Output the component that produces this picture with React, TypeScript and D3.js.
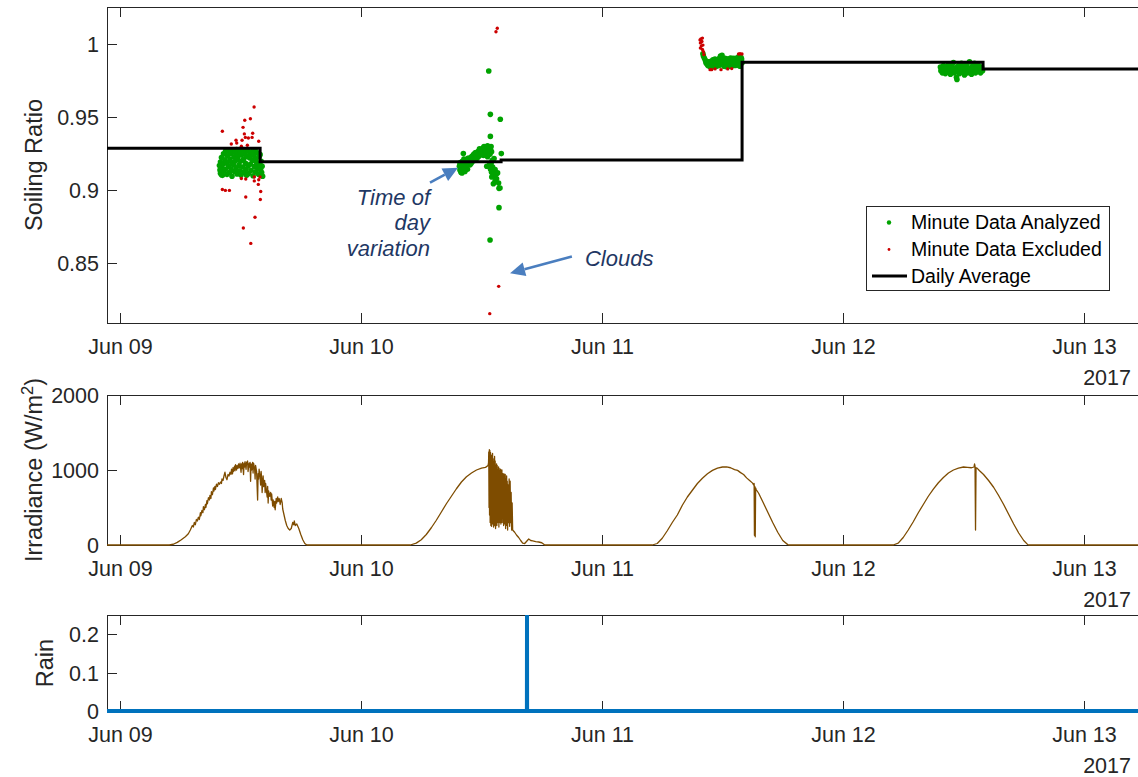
import React from "react";
import * as d3 from "d3";

// ---------- data ----------
// Soiling ratio per minute, as [hour of day, ratio]
const analyzedJun09: [number, number][] = [
  [9.9,0.9165],[9.95,0.9135],[10.0,0.919],[10.0,0.9112],[10.1,0.922],[10.15,0.915],[10.2,0.9098],[10.3,0.9245],[10.3,0.9178],[10.35,0.9128],
  [10.45,0.9205],[10.5,0.9262],[10.5,0.914],[10.6,0.9185],[10.65,0.9105],[10.7,0.9232],[10.8,0.916],[10.85,0.927],[10.9,0.9118],[10.95,0.921],
  [11.0,0.9248],[11.05,0.9143],[11.1,0.9188],[11.15,0.9092],[11.2,0.9265],[11.3,0.9172],[11.35,0.9225],[11.4,0.9125],[11.45,0.9255],[11.5,0.9198],
  [11.55,0.915],[11.6,0.9275],[11.65,0.9108],[11.7,0.9215],[11.8,0.924],[11.85,0.9168],[11.9,0.913],[11.95,0.9262],[12.0,0.9195],[12.05,0.91],
  [12.1,0.9238],[12.2,0.9155],[12.25,0.9272],[12.3,0.9208],[12.35,0.912],[12.45,0.925],[12.5,0.918],[12.55,0.914],[12.6,0.9228],[12.7,0.9268],
  [12.75,0.9162],[12.8,0.911],[12.9,0.9218],[12.95,0.9245],[13.0,0.9175],[13.05,0.9132],[13.1,0.926],[13.2,0.92],[13.25,0.9095],[13.3,0.9235],
  [13.4,0.9158],[13.45,0.927],[13.5,0.9122],[13.55,0.9212],[13.6,0.9185],[13.7,0.9252],[13.75,0.9145],[13.8,0.9105],[13.85,0.9228],[13.9,0.917],
  [13.95,0.924],[14.0,0.9135],[14.05,0.9195],[14.1,0.9118],[14.15,0.916],[10.1,0.9102],[14.2,0.9092],[12.6,0.9098]
];
const excludedJun09: [number, number][] = [
  [13.35,0.9566],[12.98,0.9486],[12.42,0.9475],[12.25,0.9427],[10.19,0.94],[12.38,0.9382],[13.21,0.9386],[12.48,0.9358],[12.78,0.9354],
  [12.15,0.9338],[13.15,0.9358],[13.81,0.9332],[11.55,0.9338],[11.62,0.932],[11.08,0.9313],[12.08,0.9297],[12.68,0.9304],
  [12.08,0.9077],[12.52,0.9073],[13.37,0.9087],[13.94,0.9087],[13.81,0.9068],[13.37,0.906],[13.77,0.9036],[10.19,0.9001],[10.49,0.8995],
  [10.89,0.8995],[14.01,0.8988],[12.52,0.895],[13.97,0.8933],[13.44,0.8811],[12.28,0.8738],[13.02,0.8632]
];
const analyzedJun10: [number, number][] = [
  [9.8,0.916],[9.85,0.9135],[9.9,0.9185],[9.95,0.912],[10.0,0.917],[10.05,0.9145],[10.1,0.9195],[10.15,0.913],[10.2,0.916],[10.25,0.921],
  [10.3,0.915],[10.35,0.9125],[10.4,0.918],[10.5,0.9165],[10.55,0.92],[10.6,0.914],[10.7,0.9185],[10.75,0.9215],[10.85,0.917],[10.9,0.92],
  [11.0,0.9225],[11.05,0.919],[11.15,0.921],[11.2,0.924],[11.3,0.92],[11.4,0.923],[11.45,0.9255],[11.55,0.9215],[11.6,0.9245],[11.7,0.9265],
  [11.75,0.923],[11.85,0.9255],[11.9,0.9275],[12.0,0.924],[12.05,0.9265],[12.15,0.9285],[12.2,0.925],[12.3,0.9272],[12.4,0.929],[12.45,0.9255],
  [12.55,0.928],[12.6,0.93],[12.7,0.9262],[12.75,0.9285],[12.85,0.9245],[12.9,0.9275],[12.52,0.916],[12.8,0.917],[12.9,0.914],[13.0,0.912],
  [13.1,0.9155],[13.2,0.9095],[13.3,0.913],[13.35,0.9137],[13.02,0.9087],[13.35,0.9057],[13.18,0.9041],[13.45,0.9105],[13.5,0.9075],
  [13.6,0.9115],[13.7,0.9045],[13.84,0.9012],
  [9.85,0.9175],[9.95,0.915],[10.05,0.9115],[10.1,0.9165],[10.2,0.919],[10.25,0.914],[10.4,0.915],[10.45,0.9205],[10.6,0.917],[10.65,0.9215],
  [10.8,0.919],[10.95,0.918],[11.1,0.923],[11.25,0.9215],[11.35,0.925],[11.5,0.9235],[11.65,0.9225],[11.8,0.928],[11.95,0.926],[12.1,0.925],
  [12.25,0.9295],[12.35,0.9265],[12.5,0.927],[12.65,0.929],[12.8,0.9265],[12.95,0.9295],[12.7,0.924],[12.6,0.9225],[13.0,0.926],[13.05,0.92],
  [12.95,0.918],[11.0,0.9205],[11.4,0.9215],[11.9,0.9245],[12.2,0.9235],
  [12.72,0.9813],[12.88,0.9516],[13.87,0.9482],[12.88,0.9365],[10.19,0.9247],[13.97,0.9247],[13.25,0.9214],[13.74,0.9009],
  [13.74,0.8877],[12.85,0.8655]
];
const excludedJun10: [number, number][] = [
  [13.57,1.0105],[13.44,1.0082],[13.71,0.8338],[12.82,0.8151]
];
const analyzedJun11: [number, number][] = [
  [10.05,0.993],[10.1,0.9915],[10.2,0.99],[10.3,0.9885],[10.35,0.987],[10.45,0.986],[10.55,0.985],[10.6,0.9875],[10.7,0.9845],[10.8,0.9862],
  [10.9,0.985],[11.0,0.9872],[11.1,0.9855],[11.2,0.988],[11.3,0.9858],[11.4,0.987],[11.5,0.9848],[11.6,0.9885],[11.7,0.99],[11.8,0.9915],
  [11.9,0.9895],[12.0,0.987],[12.1,0.9855],[12.2,0.988],[12.3,0.9862],[12.4,0.9895],[12.5,0.9875],[12.6,0.985],[12.7,0.988],[12.8,0.9902],
  [12.9,0.9868],[13.0,0.989],[13.1,0.9858],[13.2,0.9885],[13.3,0.99],[13.4,0.987],[13.5,0.9895],[13.6,0.991],[13.7,0.988],[13.8,0.9862],
  [13.9,0.9895],[13.75,0.9845],[11.0,0.9845],[12.3,0.9843],
  [10.4,0.988],[10.5,0.9868],[10.65,0.9858],[10.75,0.9872],[10.85,0.988],[10.95,0.9842],[11.05,0.989],[11.15,0.9842],[11.25,0.9895],
  [11.35,0.9845],[11.45,0.989],[11.55,0.987],[11.65,0.985],[11.75,0.987],[11.85,0.9885],[11.95,0.992],[12.05,0.989],[12.15,0.9845],
  [12.25,0.99],[12.35,0.9848],[12.45,0.9865],[12.55,0.9895],[12.65,0.9868],[12.75,0.9845],[12.85,0.988],[12.95,0.985],[13.05,0.99],
  [13.15,0.9875],[13.25,0.985],[13.35,0.988],[13.45,0.9855],[13.55,0.9875],[13.65,0.985],[13.85,0.9905],[13.95,0.987]
];
const excludedJun11: [number, number][] = [
  [9.76,1.0025],[9.8,1.0005],[9.85,1.0032],[9.9,0.9985],[9.95,1.0015],[10.0,0.996],[10.05,0.999],[10.1,0.9945],[10.15,0.9925],[9.8,0.997],
  [10.0,1.0038],[10.76,0.9822],[10.92,0.9822],[11.26,0.9827],[11.85,0.9822],[12.52,0.9827],[12.92,0.9829],[13.6,0.9929],[13.75,0.9931],[13.94,0.9929]
];
const analyzedJun12: [number, number][] = [
  [9.7,0.984],[9.75,0.9815],[9.85,0.983],[9.9,0.98],[10.0,0.985],[10.1,0.982],[10.2,0.9795],[10.3,0.984],[10.4,0.981],[10.5,0.986],
  [10.6,0.9825],[10.7,0.979],[10.8,0.9845],[10.9,0.9815],[11.0,0.987],[11.1,0.98],[11.2,0.9835],[11.3,0.977],[11.35,0.9755],[11.4,0.982],
  [11.5,0.985],[11.6,0.9795],[11.7,0.983],[11.8,0.9865],[11.9,0.981],[12.0,0.984],[12.1,0.9785],[12.2,0.9825],[12.3,0.986],[12.4,0.98],
  [12.5,0.9835],[12.6,0.9875],[12.7,0.9815],[12.8,0.979],[12.9,0.9845],[13.0,0.982],[13.1,0.9865],[13.2,0.98],[13.3,0.9835],[13.4,0.981],
  [13.5,0.985],[13.6,0.9825],[13.7,0.98],[13.8,0.984],[13.9,0.9815]
];

// Daily average soiling ratio, updated once a day after the analysis window
const dailyAverageDays = [8, 9, 10, 11, 12];
const dailyAverageValues = [0.9283, 0.9192, 0.9204, 0.9872, 0.9827];
const dailyUpdateHour = 13.95;

// Plane-of-array irradiance, [hour of day, W/m^2]
const irradianceJun09: [number, number][] = [
  [4.9,0],[5.3,10],[5.7,35],[6.1,70],[6.5,110],[6.8,150],[7.0,200],[7.1,230],[7.2,260],[7.3,240],[7.4,300],[7.5,270],[7.6,340],[7.7,320],
  [7.8,370],[7.9,340],[8.0,430],[8.05,390],[8.15,460],[8.25,430],[8.3,510],[8.4,470],[8.5,540],[8.55,500],[8.65,590],[8.7,550],[8.8,630],
  [8.9,600],[8.95,660],[9.05,620],[9.1,710],[9.2,670],[9.3,760],[9.35,720],[9.45,780],[9.5,740],[9.6,810],[9.7,780],[9.8,830],[9.9,810],
  [10.0,840],[10.1,820],[10.15,880],[10.25,860],[10.35,920],[10.45,970],[10.5,930],[10.55,900],[10.65,870],[10.75,940],[10.85,920],
  [10.95,970],[11.05,940],[11.1,1010],[11.2,950],[11.25,1030],[11.3,980],[11.4,1050],[11.45,990],[11.5,1070],[11.6,1000],[11.65,1060],
  [11.75,1020],[11.8,1080],[11.9,1030],[11.95,1090],[12.05,970],[12.1,1080],[12.15,1020],[12.2,1100],[12.3,940],[12.35,1090],[12.4,1040],
  [12.45,1110],[12.55,1010],[12.6,1100],[12.7,1120],[12.75,980],[12.85,1090],[12.9,1040],[12.95,1100],[13.0,850],[13.05,1080],[13.1,1000],
  [13.2,1100],[13.25,960],[13.3,1090],[13.4,1020],[13.45,880],[13.5,1060],[13.6,980],[13.65,780],[13.7,600],[13.75,950],[13.8,880],
  [13.85,1010],[13.95,900],[14.0,800],[14.05,980],[14.1,900],[14.15,700],[14.25,920],[14.3,780],[14.4,860],[14.45,700],[14.5,820],
  [14.55,760],[14.65,640],[14.7,780],[14.75,560],[14.8,720],[14.9,650],[15.0,700],[15.05,600],[15.1,680],[15.2,520],[15.25,600],
  [15.35,500],[15.4,580],[15.45,470],[15.55,620],[15.6,560],[15.7,640],[15.75,580],[15.85,620],[15.95,540],[16.05,620],[16.15,560],
  [16.2,480],[16.3,420],[16.45,330],[16.6,260],[16.75,220],[16.9,200],[17.05,220],[17.2,300],[17.3,270],[17.35,320],[17.45,260],
  [17.6,280],[17.8,220],[18.0,140],[18.2,70],[18.4,20],[18.6,0]
];
const irradianceJun10: [number, number][] = [
  [4.9,0],[5.5,25],[6.0,70],[6.5,140],[7.0,230],[7.5,330],[8.0,440],[8.5,550],[9.0,650],[9.5,750],[10.0,840],[10.5,910],[11.0,960],
  [11.5,1000],[12.0,1025],[12.4,1035],[12.65,1060],[12.7,1100],[12.72,1240],[12.75,500],[12.78,1270],[12.8,400],[12.83,1260],[12.86,300],
  [12.9,1230],[12.93,260],[12.96,1200],[13.0,250],[13.03,1180],[13.06,450],[13.1,1220],[13.13,280],[13.16,1150],[13.2,240],[13.23,1100],
  [13.26,320],[13.3,1180],[13.33,260],[13.36,1120],[13.4,220],[13.43,1050],[13.46,400],[13.5,1080],[13.53,260],[13.56,1060],[13.6,300],
  [13.63,1000],[13.66,350],[13.7,1040],[13.73,240],[13.76,1020],[13.8,300],[13.83,980],[13.86,420],[13.9,1010],[13.93,280],[13.96,960],
  [14.0,500],[14.03,1000],[14.06,300],[14.1,950],[14.13,380],[14.16,920],[14.2,260],[14.23,950],[14.26,450],[14.3,900],[14.33,280],
  [14.36,940],[14.4,220],[14.43,880],[14.46,350],[14.5,920],[14.53,260],[14.56,850],[14.6,200],[14.65,800],[14.7,300],[14.75,880],
  [14.8,250],[14.85,850],[14.9,300],[14.95,700],[15.0,200],[15.05,560],[15.1,200],[15.3,170],[15.5,130],[15.7,100],[15.9,60],[16.1,25],
  [16.3,20],[16.5,50],[16.7,80],[16.9,60],[17.1,55],[17.4,45],[17.7,40],[18.0,30],[18.3,0]
];
const irradianceJun11: [number, number][] = [
  [5.0,0],[5.5,20],[6.0,90],[6.5,190],[7.0,300],[7.5,400],[8.0,530],[8.5,640],[9.0,730],[9.5,820],[10.0,890],[10.5,950],[11.0,995],
  [11.5,1025],[12.0,1040],[12.4,1042],[12.8,1030],[13.2,1005],[13.5,995],[13.8,965],[14.1,940],[14.4,895],[14.7,860],[15.0,825],[15.1,800],
  [15.15,820],[15.18,130],[15.22,780],[15.26,110],[15.3,760],[15.35,740],[15.6,690],[16.0,580],[16.5,440],[17.0,300],[17.5,170],[18.0,60],
  [18.5,5],[18.7,0]
];
const irradianceJun12: [number, number][] = [
  [5.0,0],[5.5,25],[6.0,100],[6.5,200],[7.0,310],[7.5,430],[8.0,540],[8.5,650],[9.0,745],[9.5,830],[10.0,900],[10.5,960],[11.0,1000],
  [11.5,1025],[12.0,1040],[12.4,1035],[12.8,1030],[13.05,1040],[13.1,1080],[13.15,1050],[13.2,200],[13.25,1030],[13.35,1025],[13.6,990],
  [14.0,940],[14.5,860],[15.0,770],[15.5,660],[16.0,540],[16.5,410],[17.0,280],[17.5,160],[18.0,60],[18.4,5],[18.6,0]
];

// Rain gauge, [day, hour, mm]
const rainReadings: [number, number, number][] = [
  [8, 20, 0], [10, 16.52, 0], [10, 16.53, 0.254], [10, 16.54, 0], [13, 23, 0]
];

const tickDays = [9, 10, 11, 12, 13];
const ratioTicks = [0.85, 0.9, 0.95, 1];
const irradianceTicks = [0, 1000, 2000];
const rainTicks = [0, 0.1, 0.2];
const legendLabels = ["Minute Data Analyzed", "Minute Data Excluded", "Daily Average"];
const timeOfDayLines = ["Time of", "day", "variation"];
const yearLabel = "2017";

// ---------- layout ----------
const W = 1138;
const H = 777;
const FONT = "'Liberation Sans', Arial, Helvetica, sans-serif";
const AX = "#262626";
const LEFT = 107;
const RIGHT = 1141;
const GREEN = "#00A300";
const RED = "#CC0000";
const BROWN = "#7E4C00";
const BLUE = "#0072BD";
const NOTE = "#1F3864";
const ARROW = "#4A7EBF";

const at = (day: number, hour: number) => new Date(2017, 5, day, 0, 0, 0, Math.round(hour * 3600000));

const x = d3.scaleTime().domain([at(8, 22.7), at(13, 5.68)]).range([LEFT, RIGHT]);
const yRatio = d3.scaleLinear().domain([0.8087, 1.0251]).range([323, 7]);
const yIrr = d3.scaleLinear().domain([0, 2000]).range([545, 395]);
const yRain = d3.scaleLinear().domain([0, 0.25]).range([711, 615]);
const fmtDay = d3.timeFormat("%b %d");

type Frame = { id: string; scale: d3.ScaleLinear<number, number>; ticks: number[]; label: React.ReactNode; labelX: number };

function Axes({ id, scale, ticks, label, labelX }: Frame) {
  const [bottom, top] = scale.range();
  return (
    <g fontFamily={FONT} fill={AX}>
      <rect x={LEFT + 0.5} y={top + 0.5} width={RIGHT - LEFT} height={bottom - top} fill="none" stroke={AX} strokeWidth={1} />
      {tickDays.map((d) => {
        const px = Math.round(x(at(d, 0))) + 0.5;
        return (
          <g key={id + d}>
            <line x1={px} x2={px} y1={bottom} y2={bottom - 10} stroke={AX} />
            <line x1={px} x2={px} y1={top} y2={top + 10} stroke={AX} />
            <text x={px} y={bottom + 31} textAnchor="middle" fontSize={21.5}>{fmtDay(at(d, 0))}</text>
          </g>
        );
      })}
      <text x={1131} y={bottom + 61.5} textAnchor="end" fontSize={21.5}>{yearLabel}</text>
      {ticks.map((v) => {
        const py = Math.round(scale(v)) + 0.5;
        return (
          <g key={id + v}>
            <line x1={LEFT} x2={LEFT + 10} y1={py} y2={py} stroke={AX} />
            <text x={99} y={py} dy="0.35em" textAnchor="end" fontSize={21.5}>{String(v)}</text>
          </g>
        );
      })}
      <text transform={`translate(${labelX},${(top + bottom) / 2}) rotate(-90)`} textAnchor="middle" fontSize={23.5}>{label}</text>
      <clipPath id={"clip-" + id}>
        <rect x={LEFT} y={top} width={RIGHT - LEFT} height={bottom - top + 4} />
      </clipPath>
    </g>
  );
}

function Arrow({ x1, y1, x2, y2 }: { x1: number; y1: number; x2: number; y2: number }) {
  const a = Math.atan2(y2 - y1, x2 - x1);
  const len = 15;
  const hw = 7;
  const bx = x2 - len * Math.cos(a);
  const by = y2 - len * Math.sin(a);
  const nx = -Math.sin(a) * hw;
  const ny = Math.cos(a) * hw;
  return (
    <g>
      <line x1={x1} y1={y1} x2={bx} y2={by} stroke={ARROW} strokeWidth={2.6} />
      <polygon points={`${x2},${y2} ${bx + nx},${by + ny} ${bx - nx},${by - ny}`} fill={ARROW} />
    </g>
  );
}

export default function App() {
  const analyzed = [
    ...analyzedJun09.map(([h, v]) => [at(9, h), v] as [Date, number]),
    ...analyzedJun10.map(([h, v]) => [at(10, h), v] as [Date, number]),
    ...analyzedJun11.map(([h, v]) => [at(11, h), v] as [Date, number]),
    ...analyzedJun12.map(([h, v]) => [at(12, h), v] as [Date, number]),
  ];
  const excluded = [
    ...excludedJun09.map(([h, v]) => [at(9, h), v] as [Date, number]),
    ...excludedJun10.map(([h, v]) => [at(10, h), v] as [Date, number]),
    ...excludedJun11.map(([h, v]) => [at(11, h), v] as [Date, number]),
  ];
  const daily: [Date, number][] = dailyAverageDays.map((d, i) => [at(d, dailyUpdateHour), dailyAverageValues[i]]);
  daily.push([at(14, 0), dailyAverageValues[dailyAverageValues.length - 1]]);

  const irradiance: [Date, number][] = [
    [at(8, 20), 0],
    ...irradianceJun09.map(([h, v]) => [at(9, h), v] as [Date, number]),
    ...irradianceJun10.map(([h, v]) => [at(10, h), v] as [Date, number]),
    ...irradianceJun11.map(([h, v]) => [at(11, h), v] as [Date, number]),
    ...irradianceJun12.map(([h, v]) => [at(12, h), v] as [Date, number]),
    [at(13, 23), 0],
  ];
  const rain: [Date, number][] = rainReadings.map(([d, h, v]) => [at(d, h), v]);

  const stepLine = d3.line<[Date, number]>().x((d) => x(d[0])).y((d) => yRatio(d[1])).curve(d3.curveStepAfter);
  const irrLine = d3.line<[Date, number]>().x((d) => x(d[0])).y((d) => yIrr(d[1]));
  const rainLine = d3.line<[Date, number]>().x((d) => x(d[0])).y((d) => yRain(d[1]));

  // annotation anchors in data space
  const tod = { tipX: x(at(10, 9.66)), tipY: yRatio(0.9151), tailX: x(at(10, 6.87)), tailY: yRatio(0.9048) };
  const clouds = { tipX: x(at(10, 14.84)), tipY: yRatio(0.8428), tailX: x(at(10, 21.0)), tailY: yRatio(0.8543) };

  const legendX = 866;
  const legendY = 206;

  return (
    <svg width={W} height={H} viewBox={`0 0 ${W} ${H}`} style={{ position: "fixed", left: 0, top: 0, background: "#fff" }}>
      <rect width={W} height={H} fill="#fff" />

      {/* Soiling ratio */}
      <Axes id="ratio" scale={yRatio} ticks={ratioTicks} label="Soiling Ratio" labelX={42} />
      <g clipPath="url(#clip-ratio)">
        {analyzed.map((d, i) => (
          <circle key={"g" + i} cx={x(d[0])} cy={yRatio(d[1])} r={2.8} fill={GREEN} />
        ))}
        {excluded.map((d, i) => (
          <circle key={"r" + i} cx={x(d[0])} cy={yRatio(d[1])} r={1.7} fill={RED} />
        ))}
        <path d={stepLine(daily) || ""} fill="none" stroke="#000" strokeWidth={3} />
      </g>

      {/* annotations */}
      <g fontFamily={FONT} fontStyle="italic" fontSize={22} fill={NOTE} textAnchor="end">
        {timeOfDayLines.map((t, i) => (
          <text key={t} x={tod.tailX} y={tod.tailY + 22 + i * 25.5}>{t}</text>
        ))}
        <text x={x(at(10, 22.3))} y={clouds.tailY + 9.5} textAnchor="start">Clouds</text>
      </g>
      <Arrow x1={tod.tailX} y1={tod.tailY} x2={tod.tipX} y2={tod.tipY} />
      <Arrow x1={clouds.tailX} y1={clouds.tailY} x2={clouds.tipX} y2={clouds.tipY} />

      {/* legend */}
      <g fontFamily={FONT} fontSize={19.5} fill="#000">
        <rect x={legendX + 0.5} y={legendY + 0.5} width={243} height={84} fill="#fff" stroke={AX} strokeWidth={1} />
        <circle cx={legendX + 23} cy={legendY + 16.5} r={2.2} fill={GREEN} />
        <circle cx={legendX + 23} cy={legendY + 43.5} r={1.4} fill={RED} />
        <line x1={legendX + 6} x2={legendX + 41} y1={legendY + 70} y2={legendY + 70} stroke="#000" strokeWidth={3} />
        {legendLabels.map((t, i) => (
          <text key={t} x={legendX + 45} y={legendY + 16.5 + i * 27} dy="0.35em">{t}</text>
        ))}
      </g>

      {/* Irradiance */}
      <Axes
        id="irr"
        scale={yIrr}
        ticks={irradianceTicks}
        labelX={42}
        label={
          <>
            Irradiance (W/m<tspan dy="-0.55em" fontSize="70%">2</tspan><tspan dy="0.4em">)</tspan>
          </>
        }
      />
      <g clipPath="url(#clip-irr)">
        <path d={irrLine(irradiance) || ""} fill="none" stroke={BROWN} strokeWidth={1.3} strokeLinejoin="round" />
      </g>

      {/* Rain */}
      <Axes id="rain" scale={yRain} ticks={rainTicks} label="Rain" labelX={53} />
      <g clipPath="url(#clip-rain)">
        <path d={rainLine(rain) || ""} fill="none" stroke={BLUE} strokeWidth={4} />
      </g>
    </svg>
  );
}
